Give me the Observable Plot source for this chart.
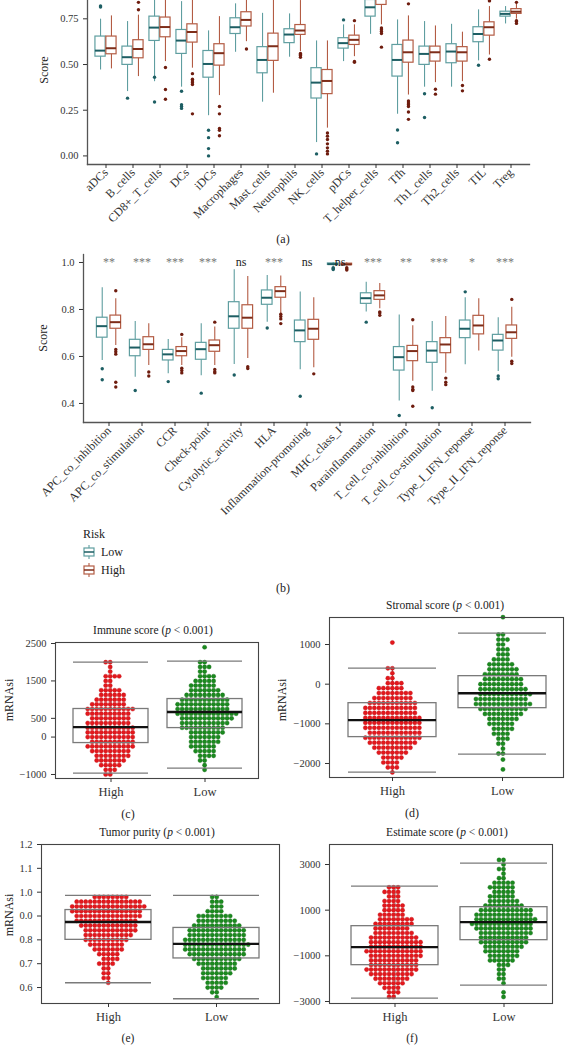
<!DOCTYPE html>
<html><head><meta charset="utf-8">
<script src="https://cdn.jsdelivr.net/npm/d3@7"></script>
<script src="https://cdn.jsdelivr.net/npm/@observablehq/plot@0.6"></script>
<style>
body{margin:0;background:#fff;}
#page{position:relative;width:568px;height:1046px;overflow:hidden;font-family:"Liberation Serif","DejaVu Serif",serif;color:#222;background:#fff;}
</style></head><body><div id="page"></div>
<script>
// ---------- Panel (a): immune cell scores ----------
const immuneCells = ["aDCs","B_cells","CD8+_T_cells","DCs","iDCs","Macrophages","Mast_cells","Neutrophils","NK_cells","pDCs","T_helper_cells","Tfh","Th1_cells","Th2_cells","TIL","Treg"];
// [lower whisker, q1, median, q3, upper whisker]
const immuneLow = [[0.470,0.543,0.576,0.653,0.748],[0.352,0.498,0.540,0.598,0.735],[0.406,0.629,0.702,0.762,0.92],[0.376,0.558,0.631,0.689,0.844],[0.220,0.428,0.503,0.574,0.684],[0.567,0.667,0.704,0.753,0.832],[0.294,0.452,0.525,0.595,0.780],[0.540,0.617,0.664,0.693,0.777],[0.073,0.314,0.401,0.480,0.629],[0.516,0.587,0.617,0.644,0.717],[0.665,0.762,0.813,0.853,0.94],[0.228,0.434,0.525,0.607,0.744],[0.376,0.498,0.558,0.598,0.735],[0.376,0.507,0.571,0.611,0.720],[0.520,0.622,0.667,0.704,0.799],[0.722,0.762,0.777,0.789,0.817]];
const immuneHigh = [[0.476,0.556,0.589,0.653,0.766],[0.434,0.534,0.585,0.633,0.77],[0.516,0.649,0.705,0.757,0.93],[0.480,0.620,0.678,0.720,0.90],[0.330,0.494,0.562,0.611,0.762],[0.625,0.708,0.744,0.786,0.88],[0.343,0.520,0.600,0.669,0.90],[0.571,0.662,0.686,0.716,0.85],[0.152,0.338,0.410,0.470,0.629],[0.543,0.607,0.635,0.658,0.717],[0.717,0.826,0.862,0.89,0.94],[0.333,0.510,0.567,0.631,0.766],[0.401,0.516,0.567,0.598,0.711],[0.406,0.516,0.567,0.595,0.677],[0.552,0.658,0.704,0.731,0.817],[0.748,0.777,0.789,0.803,0.832]];
const immuneLowOut = [[0.82,0.815],[0.316],[0.43,0.295],[0.354,0.28,0.27,0.26],[0.14,0.10,0.04,0.0],[],[],[],[0.011],[0.744],[],[0.142,0.072],[0.34,0.21],[],[0.496],[]];
const immuneHighOut = [[],[0.80,0.84,0.87],[0.484,0.363,0.31],[0.45,0.42,0.41,0.40,0.39,0.23],[0.27,0.23,0.15,0.14,0.11],[0.585],[],[0.56,0.555,0.55,0.54],[0.125,0.108,0.09,0.066,0.044,0.026,0.011],[0.74,0.517,0.512],[0.70,0.69,0.68,0.67,0.595],[0.832,0.30,0.29,0.28,0.27,0.24,0.20],[0.365,0.338],[0.385,0.356],[0.848,0.529],[0.84,0.74,0.735,0.725]];
const aTicks = [0,0.25,0.5,0.75];
const aTickLabels = ["0.00","0.25","0.50","0.75"];

// ---------- Panel (b): immune function scores ----------
const funcCats = ["APC_co_inhibition","APC_co_stimulation","CCR","Check-point","Cytolytic_activity","HLA","Inflammation-promoting","MHC_class_I","Parainflammation","T_cell_co-inhibition","T_cell_co-stimulation","Type_I_IFN_reponse","Type_II_IFN_reponse"];
const funcSig = ["**","***","***","***","ns","***","ns","ns","***","**","***","*","***"];
const funcLow = [[0.583,0.680,0.729,0.765,0.892],[0.512,0.601,0.638,0.671,0.749],[0.526,0.583,0.609,0.628,0.672],[0.518,0.586,0.631,0.658,0.739],[0.566,0.718,0.771,0.831,0.969],[0.746,0.820,0.850,0.881,0.945],[0.543,0.661,0.711,0.753,0.874],[0.985,0.990,0.993,0.996,1.0],[0.789,0.824,0.848,0.869,0.916],[0.410,0.540,0.597,0.640,0.777],[0.452,0.573,0.625,0.661,0.749],[0.565,0.678,0.718,0.753,0.850],[0.536,0.625,0.668,0.692,0.765]];
const funcHigh = [[0.647,0.718,0.746,0.774,0.846],[0.562,0.628,0.652,0.682,0.739],[0.562,0.601,0.623,0.640,0.680],[0.562,0.620,0.648,0.668,0.725],[0.591,0.718,0.765,0.818,0.940],[0.779,0.850,0.878,0.895,0.943],[0.552,0.671,0.718,0.756,0.850],[0.985,0.989,0.992,0.995,0.999],[0.803,0.841,0.860,0.878,0.911],[0.495,0.580,0.623,0.645,0.731],[0.529,0.614,0.651,0.678,0.770],[0.623,0.694,0.732,0.773,0.846],[0.597,0.675,0.703,0.732,0.810]];
const funcLowOut = [[0.548,0.501],[0.455],[0.493],[0.444],[0.521],[0.721],[0.431],[0.978,0.974,0.970],[0.746],[0.349],[0.382],[0.875],[0.517,0.505]];
const funcHighOut = [[0.88,0.63,0.62,0.61,0.49,0.47],[0.534,0.517],[0.694,0.55,0.54,0.53],[0.746,0.545,0.535,0.53],[0.556,0.549],[0.78,0.77,0.76,0.74],[0.526],[0.978,0.972,0.968],[0.79,0.785,0.775],[0.756,0.47,0.46,0.455,0.388],[0.508,0.49,0.48],[],[0.843,0.58,0.57]];
const bTicks = [0.4,0.6,0.8,1.0];
const bTickLabels = ["0.4","0.6","0.8","1.0"];

// ---------- Panels (c)-(f): beeswarm rows [value, number of dots] ----------
const groups = ["High","Low"];
const immuneScoreHigh = [[2000,2],[1875,1],[1750,1],[1625,4],[1500,2],[1375,2],[1250,5],[1125,6],[1000,7],[875,8],[750,11],[625,10],[500,9],[375,10],[250,11],[125,11],[0,11],[-125,10],[-250,11],[-375,9],[-500,8],[-625,7],[-750,5],[-875,3],[-1000,2]];
const immuneScoreLow = [[2400,1],[2000,2],[1875,3],[1750,2],[1625,4],[1500,5],[1375,6],[1250,7],[1125,9],[1000,11],[875,12],[750,12],[625,14],[500,12],[375,11],[250,10],[125,8],[0,7],[-125,7],[-250,6],[-375,5],[-500,4],[-625,2],[-750,1],[-875,1]];
const immuneScoreStats = [[-963,-160,267,750,2005],[-830,240,670,1016,2030]];
const stromalHigh = [[1050,1],[400,2],[275,1],[150,2],[25,4],[-100,6],[-225,8],[-350,9],[-475,11],[-600,12],[-725,12],[-850,13],[-975,13],[-1100,13],[-1225,12],[-1350,13],[-1475,11],[-1600,9],[-1725,7],[-1850,5],[-1975,4],[-2100,3],[-2225,1]];
const stromalLow = [[1688,1],[1250,2],[1125,3],[1000,2],[875,3],[750,3],[625,4],[500,6],[375,7],[250,8],[125,9],[0,10],[-125,11],[-250,12],[-375,12],[-500,13],[-625,11],[-750,9],[-875,7],[-1000,6],[-1125,5],[-1250,4],[-1375,3],[-1500,2],[-1625,1],[-1750,2],[-1900,1],[-2150,1]];
const stromalStats = [[-2217,-1335,-907,-479,403],[-1763,-605,-227,202,1285]];
const purityHigh = [[0.98,8],[0.96,15],[0.94,17],[0.92,16],[0.90,15],[0.88,14],[0.86,13],[0.84,12],[0.82,11],[0.80,10],[0.78,8],[0.76,7],[0.74,5],[0.72,4],[0.70,4],[0.68,2],[0.66,2],[0.64,2],[0.62,1]];
const purityLow = [[0.98,2],[0.96,3],[0.94,3],[0.92,4],[0.90,8],[0.88,9],[0.86,11],[0.84,13],[0.82,13],[0.80,14],[0.78,15],[0.76,14],[0.74,13],[0.72,11],[0.70,9],[0.68,8],[0.66,7],[0.64,6],[0.62,5],[0.60,4],[0.58,2],[0.56,1]];
const purityStats = [[0.62,0.80,0.875,0.925,0.987],[0.553,0.722,0.783,0.85,0.987]];
const estimateHigh = [[2000,3],[1800,4],[1600,3],[1400,4],[1200,5],[1000,5],[800,6],[600,8],[400,9],[200,8],[0,9],[-200,11],[-400,12],[-600,12],[-800,13],[-1000,12],[-1200,11],[-1400,11],[-1600,12],[-1800,10],[-2000,8],[-2200,6],[-2400,4],[-2600,3],[-2800,2]];
const estimateLow = [[3200,2],[3000,1],[2800,2],[2600,1],[2400,2],[2200,5],[2000,6],[1800,5],[1600,6],[1400,7],[1200,9],[1000,12],[800,13],[600,14],[400,14],[200,13],[0,12],[-200,11],[-400,11],[-600,9],[-800,8],[-1000,7],[-1200,6],[-1400,3],[-1600,2],[-1800,2],[-2000,2],[-2200,1],[-2600,1],[-2800,1]];
const estimateStats = [[-2854,-1409,-621,299,2051],[-2285,-314,474,1131,3059]];
const cTicks = [2500,1500,500,0,-1000], cTickLabels = ["2500","1500","500","0","\u22121000"];
const dTicks = [1000,0,-1000,-2000], dTickLabels = ["1000","0","\u22121000","\u22122000"];
const eTicks = [1.2,1.1,1.0,0.9,0.8,0.7,0.6], eTickLabels = ["1.2","1.1","1.0","0.0","0.8","0.7","0.6"];
const fTicks = [3000,1000,-1000,-3000], fTickLabels = ["3000","1000","\u22121000","\u22123000"];

// ---------- drawing ----------
const serif = '"Liberation Serif","DejaVu Serif",serif';
const page = document.getElementById("page");
const riskColors = {
  Low: {line:"#5f9ea0", med:"#1d5e63", dot:"#1d5e63"},
  High: {line:"#b35c44", med:"#7e2d19", dot:"#6e1c0e"}
};
function place(node, left, top){
  node.style.position = "absolute"; node.style.left = left+"px"; node.style.top = top+"px";
  page.appendChild(node);
}
function label(html, x, y, size, rotate){
  const d = document.createElement("div");
  d.innerHTML = html;
  d.style.cssText = `position:absolute;left:${x}px;top:${y}px;font-size:${size}px;white-space:nowrap;line-height:1;transform:translate(-50%,-50%)${rotate ? " rotate(-90deg)" : ""};`;
  page.appendChild(d);
}
const fmtFrom = (ticks, labels) => d => labels[ticks.indexOf(d)];

function groupedBoxes({cats, low, high, lowOut, highOut, domain, ticks, tickLabels, width, ml, mr, mt, mb, plotH, boxFrac, sig}){
  const step = (width-ml-mr)/(cats.length+0.2);
  const bw = boxFrac*step, off = 0.2*step;
  const rows = (arr, risk) => arr.map((s,i) => ({cat:cats[i], risk, lo:s[0], q1:s[1], med:s[2], q3:s[3], hi:s[4]}));
  const outs = (arr, risk) => arr.flatMap((o,i) => o.map(v => ({cat:cats[i], risk, v})));
  const marks = [];
  for (const [risk, stats, out, sign] of [["Low", low, lowOut, -1], ["High", high, highOut, 1]]) {
    const c = riskColors[risk];
    const data = rows(stats, risk);
    const dx = sign*off;
    const insetLeft = step/2 + dx - bw/2, insetRight = step/2 - dx - bw/2;
    marks.push(
      Plot.ruleX(data, {x:"cat", y1:"lo", y2:"hi", dx, stroke:c.line, strokeWidth:1.1}),
      Plot.barY(data, {x:"cat", y1:"q1", y2:"q3", insetLeft, insetRight, fill:"white", stroke:c.line, strokeWidth:1.2}),
      Plot.tickY(data, {x:"cat", y:"med", insetLeft, insetRight, stroke:c.med, strokeWidth:2}),
      Plot.dot(outs(out, risk), {x:"cat", y:"v", dx, r:1.7, fill:c.dot, stroke:"none"})
    );
  }
  if (sig) {
    const top = d3.max(low, s => s[4]);
    marks.push(Plot.text(cats.map((c,i) => ({cat:c, s:sig[i]})), {x:"cat", y:() => top, text:"s", fill:d => d.s === "ns" ? "#222" : "#777", fontSize:12}));
  }
  marks.push(
    Plot.frame({anchor:"left", stroke:"#555", strokeWidth:1.3}),
    Plot.frame({anchor:"bottom", stroke:"#555", strokeWidth:1.3}),
    Plot.axisX({tickRotate:-45, tickSize:4, tickPadding:2, fontSize:12, label:null}),
    Plot.axisY({ticks, tickFormat:fmtFrom(ticks, tickLabels), tickSize:4, fontSize:10.5, label:null})
  );
  return Plot.plot({
    width, height: mt+plotH+mb, marginTop:mt, marginBottom:mb, marginLeft:ml, marginRight:mr,
    x: {domain:cats, paddingInner:0, paddingOuter:0.1},
    y: {domain},
    style: {fontFamily:serif, color:"#333", background:"transparent", overflow:"visible"},
    marks
  });
}

function swarmPanel({width, ml, mr, mt, plotH, mb, domain, ticks, tickLabels, stats, rowsHigh, rowsLow, po, align}){
  const xs = d3.scaleBand().domain(groups).range([ml, width-mr]).paddingInner(0.2).paddingOuter(po).align(align);
  const mid = (ml + width - mr)/2;
  // Plot shifts dots by half a band on a band x scale; compensate so each swarm sits on its box
  const shift = g => xs(g) - mid;
  const expand = rows => rows.flatMap(([v,n]) => Array.from({length:n}, () => v));
  const st = stats.map((s,i) => ({g:groups[i], lo:s[0], q1:s[1], med:s[2], q3:s[3], hi:s[4]}));
  const box = "#7a7a7a";
  const swarm = (rows, g, fill, stroke) =>
    Plot.dot(expand(rows), Plot.dodgeX({anchor:"middle", padding:0.3}, {y:d => d, r:2.1, fill, stroke, strokeWidth:0.4, dx:shift(g)}));
  return Plot.plot({
    width, height: mt+plotH+mb, marginTop:mt, marginBottom:mb, marginLeft:ml, marginRight:mr,
    x: {domain:groups, paddingInner:0.2, paddingOuter:po, align},
    y: {domain},
    style: {fontFamily:serif, color:"#333", background:"transparent", overflow:"visible"},
    marks: [
      Plot.ruleX(st, {x:"g", y1:"q3", y2:"hi", stroke:box, strokeDasharray:"3,2"}),
      Plot.ruleX(st, {x:"g", y1:"lo", y2:"q1", stroke:box, strokeDasharray:"3,2"}),
      swarm(rowsHigh, "High", "#e3181d", "#c01014"),
      swarm(rowsLow, "Low", "#1b8a1f", "#126b15"),
      Plot.barY(st, {x:"g", y1:"q1", y2:"q3", fill:"none", stroke:box, strokeWidth:1.3}),
      Plot.tickY(st, {x:"g", y:"hi", stroke:box, strokeWidth:1.3}),
      Plot.tickY(st, {x:"g", y:"lo", stroke:box, strokeWidth:1.3}),
      Plot.tickY(st, {x:"g", y:"med", stroke:"#111", strokeWidth:2.4}),
      Plot.frame({stroke:"#444", strokeWidth:1.1}),
      Plot.axisX({tickSize:4, fontSize:12.5, label:null}),
      Plot.axisY({ticks, tickFormat:fmtFrom(ticks, tickLabels), tickSize:4, fontSize:10.5, label:null})
    ]
  });
}

// (a)
place(groupedBoxes({cats:immuneCells, low:immuneLow, high:immuneHigh, lowOut:immuneLowOut, highOut:immuneHighOut,
  domain:[-0.047,0.987], ticks:aTicks, tickLabels:aTickLabels, width:568, ml:87, mr:39, mt:5, plotH:189, mb:62, boxFrac:0.385}), 0, -30);
// (b)
place(groupedBoxes({cats:funcCats, low:funcLow, high:funcHigh, lowOut:funcLowOut, highOut:funcHighOut,
  domain:[0.319,1.034], ticks:bTicks, tickLabels:bTickLabels, width:568, ml:83, mr:38, mt:10, plotH:168, mb:90, boxFrac:0.34, sig:funcSig}), 0, 244);
// (c)
place(swarmPanel({width:284, ml:55, mr:26, mt:6, plotH:136, mb:20, domain:[-1107,2527], ticks:cTicks, tickLabels:cTickLabels,
  stats:immuneScoreStats, rowsHigh:immuneScoreHigh, rowsLow:immuneScoreLow, po:0.175, align:0.52}), 0, 636);
// (d)
place(swarmPanel({width:284, ml:45, mr:5, mt:6, plotH:160, mb:20, domain:[-2353,1681], ticks:dTicks, tickLabels:dTickLabels,
  stats:stromalStats, rowsHigh:stromalHigh, rowsLow:stromalLow, po:0.158, align:0.54}), 284, 611);
// (e)
place(swarmPanel({width:284, ml:41, mr:5, mt:6, plotH:159, mb:20, domain:[0.533,1.2], ticks:eTicks, tickLabels:eTickLabels,
  stats:purityStats, rowsHigh:purityHigh, rowsLow:purityLow, po:0.197, align:0.555}), 0, 838);
// (f)
place(swarmPanel({width:284, ml:45, mr:16, mt:6, plotH:159, mb:20, domain:[-3088,3876], ticks:fTicks, tickLabels:fTickLabels,
  stats:estimateStats, rowsHigh:estimateHigh, rowsLow:estimateLow, po:0.114, align:0.82}), 284, 838);

// text labels
label("Score", 44, 70, 12, true);
label("(a)", 283, 239, 12);
label("Score", 43, 338, 12, true);
label("(b)", 283, 588, 12);
label("Immune score (<i>p</i> &lt; 0.001)", 153, 631, 11.5);
label("Stromal score (<i>p</i> &lt; 0.001)", 445, 606, 11.5);
label("Tumor purity (<i>p</i> &lt; 0.001)", 157, 833, 11.5);
label("Estimate score (<i>p</i> &lt; 0.001)", 447, 833, 11.5);
label("mRNAsi", 9, 700, 12, true);
label("mRNAsi", 282, 700, 12, true);
label("mRNAsi", 9, 915, 12, true);
label("(c)", 128, 814, 12);
label("(d)", 412, 813, 12);
label("(e)", 128, 1039, 11.5);
label("(f)", 412, 1039, 11.5);

// legend
const legendRisk = ["Low","High"];
const leg = document.createElement("div");
leg.style.cssText = "position:absolute;left:83px;top:525px;font-size:12px;line-height:18px;";
leg.innerHTML = `<div>Risk</div>` + legendRisk.map(r => {
  const c = riskColors[r];
  return `<div style="display:flex;align-items:center;"><svg width="12" height="14" style="margin-right:6px"><line x1="6" y1="0" x2="6" y2="14" stroke="${c.line}" stroke-width="1.1"/><rect x="1" y="3" width="10" height="8" fill="white" stroke="${c.line}" stroke-width="1.2"/><line x1="1" y1="7" x2="11" y2="7" stroke="${c.med}" stroke-width="1.5"/></svg>${r}</div>`;
}).join("");
page.appendChild(leg);
</script></body></html>
